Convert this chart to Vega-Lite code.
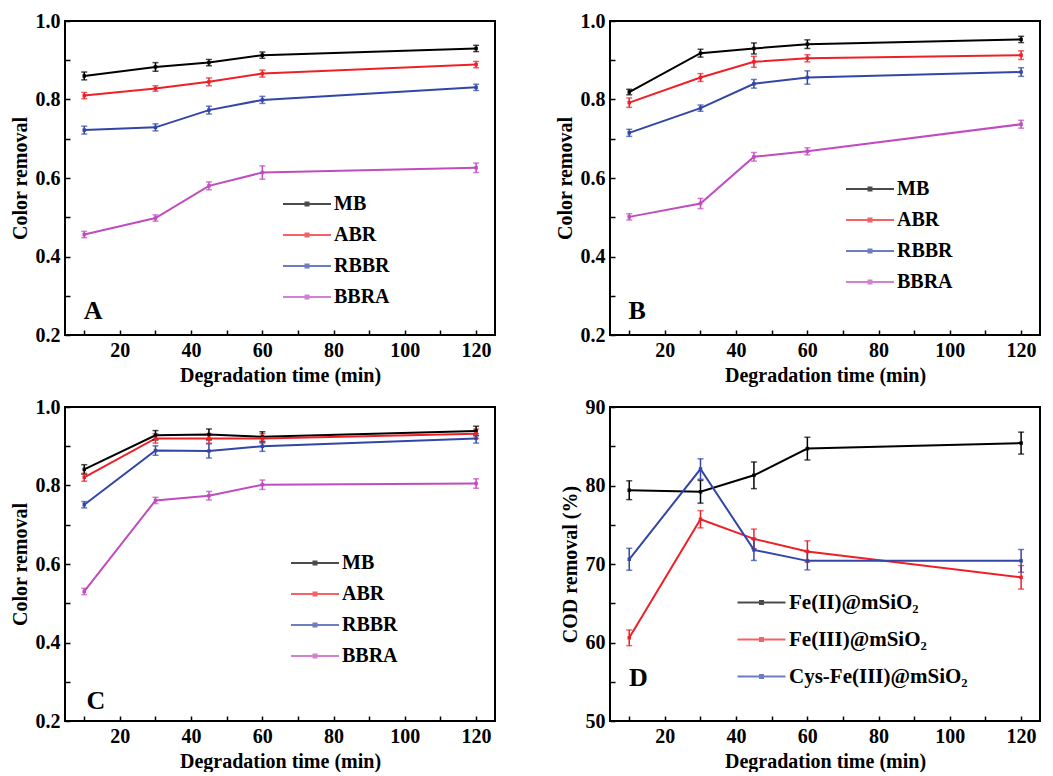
{
  "$schema": "https://vega.github.io/schema/vega-lite/v6.json",
  "padding": {"left": 9, "top": 10, "right": 5, "bottom": 0},
  "columns": 2,
  "spacing": {"row": 10, "column": 58},
  "datasets": {
    "abc": [
      {"p": "A", "s": "MB", "t": 10, "v": 0.860, "e": 0.010},
      {"p": "A", "s": "MB", "t": 30, "v": 0.883, "e": 0.011},
      {"p": "A", "s": "MB", "t": 45, "v": 0.894, "e": 0.008},
      {"p": "A", "s": "MB", "t": 60, "v": 0.913, "e": 0.008},
      {"p": "A", "s": "MB", "t": 120, "v": 0.930, "e": 0.008},
      {"p": "A", "s": "ABR", "t": 10, "v": 0.810, "e": 0.008},
      {"p": "A", "s": "ABR", "t": 30, "v": 0.828, "e": 0.007},
      {"p": "A", "s": "ABR", "t": 45, "v": 0.845, "e": 0.010},
      {"p": "A", "s": "ABR", "t": 60, "v": 0.866, "e": 0.009},
      {"p": "A", "s": "ABR", "t": 120, "v": 0.889, "e": 0.008},
      {"p": "A", "s": "RBBR", "t": 10, "v": 0.722, "e": 0.010},
      {"p": "A", "s": "RBBR", "t": 30, "v": 0.729, "e": 0.009},
      {"p": "A", "s": "RBBR", "t": 45, "v": 0.773, "e": 0.010},
      {"p": "A", "s": "RBBR", "t": 60, "v": 0.799, "e": 0.009},
      {"p": "A", "s": "RBBR", "t": 120, "v": 0.831, "e": 0.008},
      {"p": "A", "s": "BBRA", "t": 10, "v": 0.456, "e": 0.008},
      {"p": "A", "s": "BBRA", "t": 30, "v": 0.498, "e": 0.008},
      {"p": "A", "s": "BBRA", "t": 45, "v": 0.580, "e": 0.010},
      {"p": "A", "s": "BBRA", "t": 60, "v": 0.614, "e": 0.017},
      {"p": "A", "s": "BBRA", "t": 120, "v": 0.626, "e": 0.012},
      {"p": "B", "s": "MB", "t": 10, "v": 0.819, "e": 0.007},
      {"p": "B", "s": "MB", "t": 30, "v": 0.918, "e": 0.010},
      {"p": "B", "s": "MB", "t": 45, "v": 0.930, "e": 0.014},
      {"p": "B", "s": "MB", "t": 60, "v": 0.941, "e": 0.011},
      {"p": "B", "s": "MB", "t": 120, "v": 0.953, "e": 0.008},
      {"p": "B", "s": "ABR", "t": 10, "v": 0.792, "e": 0.012},
      {"p": "B", "s": "ABR", "t": 30, "v": 0.856, "e": 0.010},
      {"p": "B", "s": "ABR", "t": 45, "v": 0.896, "e": 0.014},
      {"p": "B", "s": "ABR", "t": 60, "v": 0.905, "e": 0.009},
      {"p": "B", "s": "ABR", "t": 120, "v": 0.913, "e": 0.011},
      {"p": "B", "s": "RBBR", "t": 10, "v": 0.715, "e": 0.009},
      {"p": "B", "s": "RBBR", "t": 30, "v": 0.778, "e": 0.008},
      {"p": "B", "s": "RBBR", "t": 45, "v": 0.840, "e": 0.011},
      {"p": "B", "s": "RBBR", "t": 60, "v": 0.856, "e": 0.017},
      {"p": "B", "s": "RBBR", "t": 120, "v": 0.870, "e": 0.011},
      {"p": "B", "s": "BBRA", "t": 10, "v": 0.501, "e": 0.008},
      {"p": "B", "s": "BBRA", "t": 30, "v": 0.535, "e": 0.013},
      {"p": "B", "s": "BBRA", "t": 45, "v": 0.654, "e": 0.011},
      {"p": "B", "s": "BBRA", "t": 60, "v": 0.668, "e": 0.009},
      {"p": "B", "s": "BBRA", "t": 120, "v": 0.737, "e": 0.010},
      {"p": "C", "s": "MB", "t": 10, "v": 0.841, "e": 0.012},
      {"p": "C", "s": "MB", "t": 30, "v": 0.928, "e": 0.012},
      {"p": "C", "s": "MB", "t": 45, "v": 0.930, "e": 0.014},
      {"p": "C", "s": "MB", "t": 60, "v": 0.924, "e": 0.013},
      {"p": "C", "s": "MB", "t": 120, "v": 0.939, "e": 0.012},
      {"p": "C", "s": "ABR", "t": 10, "v": 0.821, "e": 0.010},
      {"p": "C", "s": "ABR", "t": 30, "v": 0.920, "e": 0.012},
      {"p": "C", "s": "ABR", "t": 45, "v": 0.920, "e": 0.012},
      {"p": "C", "s": "ABR", "t": 60, "v": 0.920, "e": 0.012},
      {"p": "C", "s": "ABR", "t": 120, "v": 0.932, "e": 0.012},
      {"p": "C", "s": "RBBR", "t": 10, "v": 0.751, "e": 0.008},
      {"p": "C", "s": "RBBR", "t": 30, "v": 0.889, "e": 0.012},
      {"p": "C", "s": "RBBR", "t": 45, "v": 0.888, "e": 0.018},
      {"p": "C", "s": "RBBR", "t": 60, "v": 0.900, "e": 0.013},
      {"p": "C", "s": "RBBR", "t": 120, "v": 0.920, "e": 0.012},
      {"p": "C", "s": "BBRA", "t": 10, "v": 0.530, "e": 0.008},
      {"p": "C", "s": "BBRA", "t": 30, "v": 0.762, "e": 0.008},
      {"p": "C", "s": "BBRA", "t": 45, "v": 0.774, "e": 0.011},
      {"p": "C", "s": "BBRA", "t": 60, "v": 0.802, "e": 0.012},
      {"p": "C", "s": "BBRA", "t": 120, "v": 0.805, "e": 0.012}
    ],
    "d": [
      {"s": "Fe(II)@mSiO₂", "t": 10, "v": 79.4, "e": 1.2},
      {"s": "Fe(II)@mSiO₂", "t": 30, "v": 79.2, "e": 1.45},
      {"s": "Fe(II)@mSiO₂", "t": 45, "v": 81.3, "e": 1.7},
      {"s": "Fe(II)@mSiO₂", "t": 60, "v": 84.7, "e": 1.45},
      {"s": "Fe(II)@mSiO₂", "t": 120, "v": 85.4, "e": 1.4},
      {"s": "Fe(III)@mSiO₂", "t": 10, "v": 60.6, "e": 1.0},
      {"s": "Fe(III)@mSiO₂", "t": 30, "v": 75.7, "e": 1.1},
      {"s": "Fe(III)@mSiO₂", "t": 45, "v": 73.2, "e": 1.25},
      {"s": "Fe(III)@mSiO₂", "t": 60, "v": 71.6, "e": 1.35},
      {"s": "Fe(III)@mSiO₂", "t": 120, "v": 68.3, "e": 1.5},
      {"s": "Cys-Fe(III)@mSiO₂", "t": 10, "v": 70.6, "e": 1.4},
      {"s": "Cys-Fe(III)@mSiO₂", "t": 30, "v": 82.1, "e": 1.3},
      {"s": "Cys-Fe(III)@mSiO₂", "t": 45, "v": 71.8, "e": 1.35},
      {"s": "Cys-Fe(III)@mSiO₂", "t": 60, "v": 70.4, "e": 1.15},
      {"s": "Cys-Fe(III)@mSiO₂", "t": 120, "v": 70.4, "e": 1.45}
    ]
  },
  "concat": [
    {
      "width": 430, "height": 314,
      "data": {"name": "abc"},
      "transform": [{"filter": "datum.p == 'A'"}],
      "encoding": {
        "x": {"field": "t", "type": "quantitative", "scale": {"domain": [4.6, 125.3], "nice": false, "zero": false},
              "axis": {"values": [10,20,30,40,50,60,70,80,90,100,110,120], "labelExpr": "datum.value % 20 == 0 ? datum.label : ''", "title": "Degradation time (min)"}},
        "y": {"field": "v", "type": "quantitative", "scale": {"domain": [0.2, 1.0], "nice": false, "zero": false},
              "axis": {"values": [0.2,0.3,0.4,0.5,0.6,0.7,0.8,0.9,1.0], "labelExpr": "round(datum.value*10) % 2 == 0 ? format(datum.value, '.1f') : ''", "title": "Color removal"}},
        "color": {"field": "s", "type": "nominal", "scale": {"domain": ["MB","ABR","RBBR","BBRA"], "range": ["#000000","#ee2027","#3246a8","#c04cbf"]},
                  "legend": {"orient": "none", "legendX": 232, "legendY": 173, "title": null}}
      },
      "layer": [
        {"mark": {"type": "line", "strokeWidth": 2}},
        {"mark": {"type": "errorbar", "thickness": 1.5, "ticks": {"size": 6, "thickness": 1.5}}, "encoding": {"yError": {"field": "e"}}},
        {"mark": {"type": "point", "filled": true, "size": 12, "opacity": 1, "shape": "square"}},
        {"transform": [{"filter": "datum.t == 10 && datum.s == 'MB'"}],
         "mark": {"type": "text", "fontSize": 26, "fontWeight": "bold", "font": "Liberation Serif", "align": "center", "baseline": "middle"},
         "encoding": {"x": {"datum": 12.5}, "y": {"datum": 0.262}, "text": {"value": "A"}, "color": {"value": "#000000"}}}
      ]
    },
    {
      "width": 430, "height": 314,
      "data": {"name": "abc"},
      "transform": [{"filter": "datum.p == 'B'"}],
      "encoding": {
        "x": {"field": "t", "type": "quantitative", "scale": {"domain": [4.6, 125.3], "nice": false, "zero": false},
              "axis": {"values": [10,20,30,40,50,60,70,80,90,100,110,120], "labelExpr": "datum.value % 20 == 0 ? datum.label : ''", "title": "Degradation time (min)"}},
        "y": {"field": "v", "type": "quantitative", "scale": {"domain": [0.2, 1.0], "nice": false, "zero": false},
              "axis": {"values": [0.2,0.3,0.4,0.5,0.6,0.7,0.8,0.9,1.0], "labelExpr": "round(datum.value*10) % 2 == 0 ? format(datum.value, '.1f') : ''", "title": "Color removal"}},
        "color": {"field": "s", "type": "nominal", "scale": {"domain": ["MB","ABR","RBBR","BBRA"], "range": ["#000000","#ee2027","#3246a8","#c04cbf"]},
                  "legend": {"orient": "none", "legendX": 250, "legendY": 158, "title": null}}
      },
      "layer": [
        {"mark": {"type": "line", "strokeWidth": 2}},
        {"mark": {"type": "errorbar", "thickness": 1.5, "ticks": {"size": 6, "thickness": 1.5}}, "encoding": {"yError": {"field": "e"}}},
        {"mark": {"type": "point", "filled": true, "size": 12, "opacity": 1, "shape": "square"}},
        {"transform": [{"filter": "datum.t == 10 && datum.s == 'MB'"}],
         "mark": {"type": "text", "fontSize": 26, "fontWeight": "bold", "font": "Liberation Serif", "align": "center", "baseline": "middle"},
         "encoding": {"x": {"datum": 12.2}, "y": {"datum": 0.262}, "text": {"value": "B"}, "color": {"value": "#000000"}}}
      ]
    },
    {
      "width": 430, "height": 314,
      "data": {"name": "abc"},
      "transform": [{"filter": "datum.p == 'C'"}],
      "encoding": {
        "x": {"field": "t", "type": "quantitative", "scale": {"domain": [4.6, 125.3], "nice": false, "zero": false},
              "axis": {"values": [10,20,30,40,50,60,70,80,90,100,110,120], "labelExpr": "datum.value % 20 == 0 ? datum.label : ''", "title": "Degradation time (min)"}},
        "y": {"field": "v", "type": "quantitative", "scale": {"domain": [0.2, 1.0], "nice": false, "zero": false},
              "axis": {"values": [0.2,0.3,0.4,0.5,0.6,0.7,0.8,0.9,1.0], "labelExpr": "round(datum.value*10) % 2 == 0 ? format(datum.value, '.1f') : ''", "title": "Color removal"}},
        "color": {"field": "s", "type": "nominal", "scale": {"domain": ["MB","ABR","RBBR","BBRA"], "range": ["#000000","#ee2027","#3246a8","#c04cbf"]},
                  "legend": {"orient": "none", "legendX": 240, "legendY": 146, "title": null}}
      },
      "layer": [
        {"mark": {"type": "line", "strokeWidth": 2}},
        {"mark": {"type": "errorbar", "thickness": 1.5, "ticks": {"size": 6, "thickness": 1.5}}, "encoding": {"yError": {"field": "e"}}},
        {"mark": {"type": "point", "filled": true, "size": 12, "opacity": 1, "shape": "square"}},
        {"transform": [{"filter": "datum.t == 10 && datum.s == 'MB'"}],
         "mark": {"type": "text", "fontSize": 26, "fontWeight": "bold", "font": "Liberation Serif", "align": "center", "baseline": "middle"},
         "encoding": {"x": {"datum": 13.3}, "y": {"datum": 0.25}, "text": {"value": "C"}, "color": {"value": "#000000"}}}
      ]
    },
    {
      "width": 430, "height": 314,
      "data": {"name": "d"},
      "encoding": {
        "x": {"field": "t", "type": "quantitative", "scale": {"domain": [4.6, 125.3], "nice": false, "zero": false},
              "axis": {"values": [10,20,30,40,50,60,70,80,90,100,110,120], "labelExpr": "datum.value % 20 == 0 ? datum.label : ''", "title": "Degradation time (min)"}},
        "y": {"field": "v", "type": "quantitative", "scale": {"domain": [50, 90], "nice": false, "zero": false},
              "axis": {"values": [50,55,60,65,70,75,80,85,90], "labelExpr": "datum.value % 10 == 0 ? datum.label : ''", "title": "COD removal (%)"}},
        "color": {"field": "s", "type": "nominal", "scale": {"domain": ["Fe(II)@mSiO₂","Fe(III)@mSiO₂","Cys-Fe(III)@mSiO₂"], "range": ["#000000","#ee2027","#3246a8"]},
                  "legend": {"orient": "none", "legendX": 141, "legendY": 185, "title": null, "labelFontSize": 21, "rowPadding": 15}}
      },
      "layer": [
        {"mark": {"type": "line", "strokeWidth": 2}},
        {"mark": {"type": "errorbar", "thickness": 1.5, "ticks": {"size": 6, "thickness": 1.5}}, "encoding": {"yError": {"field": "e"}}},
        {"mark": {"type": "point", "filled": true, "size": 12, "opacity": 1, "shape": "square"}},
        {"transform": [{"filter": "datum.t == 10 && datum.s == 'Fe(II)@mSiO₂'"}],
         "mark": {"type": "text", "fontSize": 26, "fontWeight": "bold", "font": "Liberation Serif", "align": "center", "baseline": "middle"},
         "encoding": {"x": {"datum": 12.6}, "y": {"datum": 55.5}, "text": {"value": "D"}, "color": {"value": "#000000"}}}
      ]
    }
  ],
  "resolve": {
    "scale": {"x": "independent", "y": "independent", "color": "independent"},
    "axis": {"x": "independent", "y": "independent"},
    "legend": {"color": "independent"}
  },
  "config": {
    "background": "#ffffff",
    "font": "Liberation Serif",
    "view": {"stroke": "#000000", "strokeWidth": 2},
    "axis": {
      "domain": false, "grid": false,
      "tickSize": -5, "tickWidth": 1.5, "tickColor": "#000000",
      "labelFont": "Liberation Serif", "labelFontSize": 20, "labelFontWeight": "bold", "labelColor": "#000000", "labelPadding": 10,
      "titleFont": "Liberation Serif", "titleFontSize": 20, "titleFontWeight": "bold", "titleColor": "#000000"
    },
    "axisY": {"titlePadding": 5},
    "axisX": {"titlePadding": 5},
    "legend": {
      "symbolType": "M-4,0H4M-0.25,-0.25H0.25V0.25H-0.25Z", "symbolSize": 144, "symbolStrokeWidth": 2,
      "labelFont": "Liberation Serif", "labelFontSize": 20, "labelFontWeight": "bold", "labelColor": "#000000",
      "labelOffset": 17, "rowPadding": 11, "padding": 0, "labelLimit": 400
    }
  }
}
